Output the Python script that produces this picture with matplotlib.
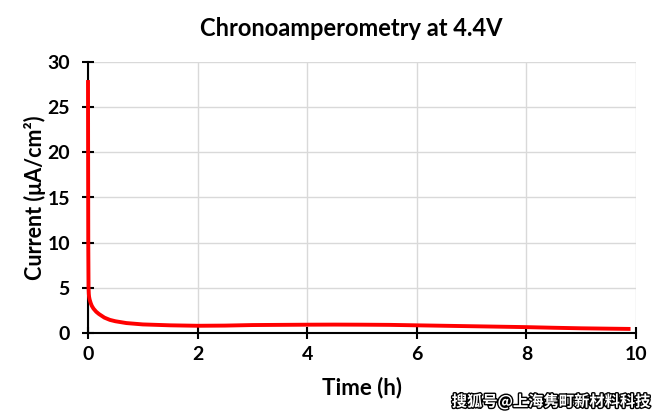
import matplotlib
matplotlib.use("Agg")
import matplotlib.pyplot as plt
import matplotlib.patheffects as pe

time_h = [0.0, 0.002, 0.005, 0.01, 0.015, 0.02, 0.03, 0.05, 0.07, 0.1, 0.15, 0.2, 0.3, 0.4, 0.5,
          0.7, 1.0, 1.5, 2.0, 2.5, 3.0, 3.5, 4.0, 4.5, 5.0, 5.5, 6.0, 6.5, 7.0, 7.5, 8.0,
          8.5, 9.0, 9.5, 9.9]
current = [28.0, 20.0, 10.0, 5.0, 4.3, 4.0, 3.7, 3.3, 3.0, 2.7, 2.35, 2.1, 1.7, 1.45, 1.3,
           1.1, 0.95, 0.85, 0.8, 0.82, 0.88, 0.9, 0.92, 0.93, 0.92, 0.9, 0.85, 0.8, 0.75, 0.7, 0.65,
           0.58, 0.52, 0.48, 0.45]
x_ticks = [0, 2, 4, 6, 8, 10]
y_ticks = [0, 5, 10, 15, 20, 25, 30]

plt.rcParams['font.family'] = ['Lato', 'DejaVu Sans']
fig = plt.figure(figsize=(6.6, 4.19), dpi=100)
ax = fig.add_axes([88/660, (419-333)/419, (636-88)/660, (333-62)/419])
ax.plot(time_h, current, color='#ff0000', lw=2.8, solid_capstyle='butt', zorder=5, clip_on=False)
ax.set_xlim(0, 10)
ax.set_ylim(0, 30)
ax.set_xticks(x_ticks)
ax.set_yticks(y_ticks)
ax.grid(True, color='#d9d9d9', lw=1)
ax.set_axisbelow(True)
for s in ['top', 'right']:
    ax.spines[s].set_visible(False)
for s in ['left', 'bottom']:
    ax.spines[s].set_linewidth(1.5)
ax.tick_params(direction='inout', length=8, width=1.5, labelsize=14)
ax.tick_params(axis='y', pad=9)
ax.tick_params(axis='x', pad=5)
for lab in ax.get_xticklabels() + ax.get_yticklabels():
    lab.set_fontweight('bold')
ax.set_xlabel('Time (h)', fontsize=16, fontweight='bold', labelpad=10)
ax.set_ylabel('Current (μA/cm²)', fontsize=15.5, fontweight='bold', labelpad=1)
fig.text(351/660, 0.915, 'Chronoamperometry at 4.4V', ha='center', fontsize=17, fontweight='bold')
fig.text(0.985, 0.03, '搜狐号@上海隽町新材料科技', ha='right', fontsize=11, color='white',
         family=['Noto Sans CJK SC', 'DejaVu Sans'], fontweight='bold',
         path_effects=[pe.withStroke(linewidth=2, foreground='black')])
fig.savefig('out.png', dpi=100, facecolor='white')
